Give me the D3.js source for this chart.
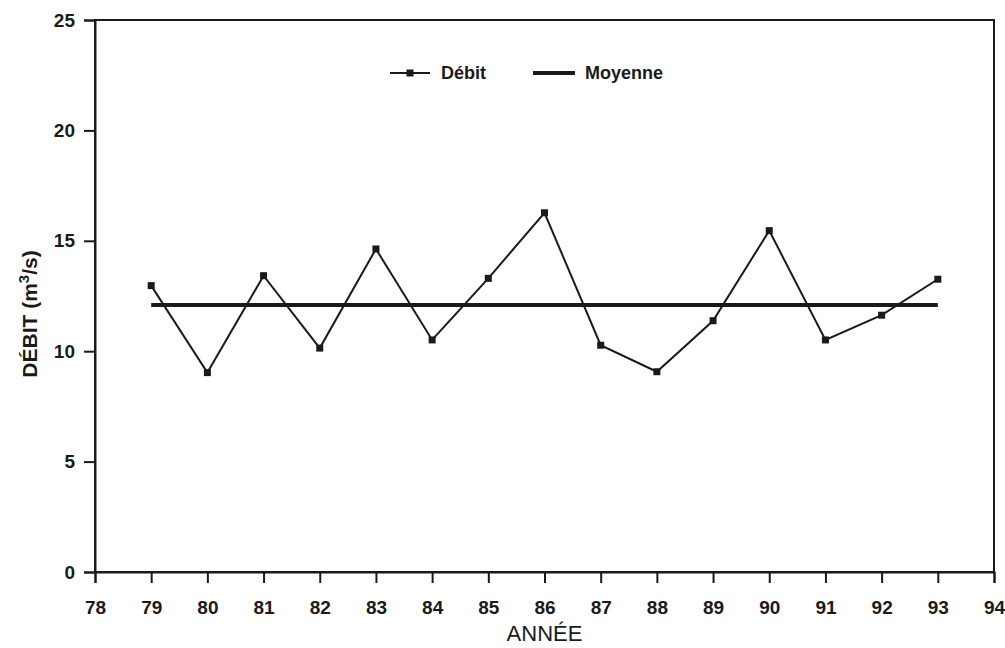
<!DOCTYPE html>
<html><head><meta charset="utf-8">
<script src="https://cdn.jsdelivr.net/npm/d3@7"></script>
<style>body{margin:0;background:#fff}svg{display:block}text{font-family:"Liberation Sans",Arial,sans-serif;fill:#1a1a1a}</style>
</head><body>
<script>
const years = [79,80,81,82,83,84,85,86,87,88,89,90,91,92,93];
const debit = [12.97,9.03,13.42,10.14,14.63,10.51,13.30,16.27,10.27,9.07,11.38,15.46,10.51,11.63,13.26];
const moyenne = 12.09;
const xTicks = [78,79,80,81,82,83,84,85,86,87,88,89,90,91,92,93,94];
const yTicks = [0,5,10,15,20,25];

const W=1005,H=648;
const L=95,R=994,T=20,B=572;
const ink="#1a1a1a";
const svg=d3.select("body").append("svg").attr("width",W).attr("height",H);
const x=d3.scaleLinear().domain([78,94]).range([L,R]);
const y=d3.scaleLinear().domain([0,25]).range([B,T]);

// frame
svg.append("rect").attr("x",L).attr("y",T).attr("width",R-L).attr("height",B-T)
  .attr("fill","none").attr("stroke",ink).attr("stroke-width",2);

const xa=svg.append("g").attr("transform",`translate(0,${B})`)
  .call(d3.axisBottom(x).tickValues(xTicks).tickSize(11).tickPadding(18).tickFormat(d3.format("d")));
const ya=svg.append("g").attr("transform",`translate(${L},0)`)
  .call(d3.axisLeft(y).tickValues(yTicks).tickSize(11).tickPadding(9));
[xa,ya].forEach(g=>{
  g.select(".domain").attr("stroke",ink).attr("stroke-width",2);
  g.selectAll(".tick line").attr("stroke",ink).attr("stroke-width",2);
  g.selectAll(".tick text").attr("fill",ink).style("font-size","19px").style("font-weight","bold")
   .style("font-family",'"Liberation Sans",Arial,sans-serif');
});

// mean line
svg.append("line").attr("x1",x(years[0])).attr("x2",x(years[years.length-1]))
  .attr("y1",y(moyenne)).attr("y2",y(moyenne)).attr("stroke",ink).attr("stroke-width",4);

// data line
const line=d3.line().x((d,i)=>x(years[i])).y(d=>y(d));
svg.append("path").datum(debit).attr("d",line).attr("fill","none").attr("stroke",ink).attr("stroke-width",2);
svg.selectAll("rect.m").data(debit).enter().append("rect").attr("class","m")
  .attr("x",(d,i)=>x(years[i])-3.5).attr("y",d=>y(d)-3.5).attr("width",7).attr("height",7).attr("fill",ink);

// legend
const ly=73;
svg.append("line").attr("x1",390).attr("x2",430).attr("y1",ly).attr("y2",ly).attr("stroke",ink).attr("stroke-width",2);
svg.append("rect").attr("x",410-3.5).attr("y",ly-3.5).attr("width",7).attr("height",7).attr("fill",ink);
svg.append("text").attr("x",441).attr("y",ly).attr("dy","0.35em").style("font-size","18px").style("font-weight","bold").text("Débit");
svg.append("line").attr("x1",533).attr("x2",575).attr("y1",ly).attr("y2",ly).attr("stroke",ink).attr("stroke-width",4);
svg.append("text").attr("x",585).attr("y",ly).attr("dy","0.35em").style("font-size","18px").style("font-weight","bold").text("Moyenne");

// axis titles
svg.append("text").attr("x",(L+R)/2).attr("y",641).attr("text-anchor","middle").style("font-size","22px").text("ANNÉE");
const yl=svg.append("text").attr("transform","translate(37,314) rotate(-90)").attr("text-anchor","middle")
  .style("font-size","21px").style("font-weight","bold");
yl.append("tspan").text("DÉBIT (m");
yl.append("tspan").attr("dy",-8).style("font-size","15px").text("3");
yl.append("tspan").attr("dy",8).text("/s)");
</script>
</body></html>
